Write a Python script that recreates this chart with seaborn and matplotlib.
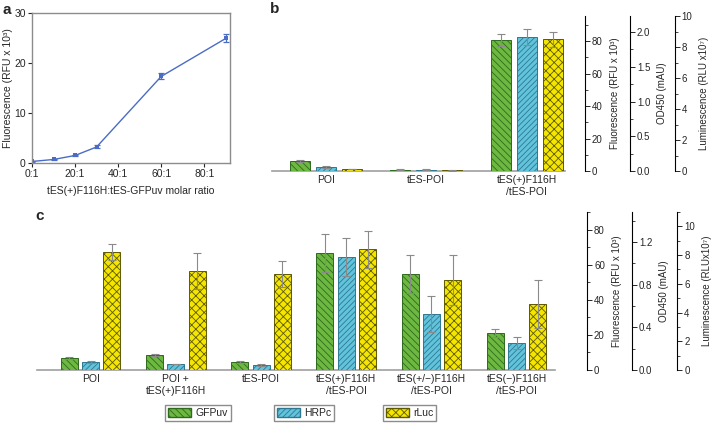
import numpy as np
import pandas as pd
import matplotlib
matplotlib.use("Agg")
import matplotlib.pyplot as plt
import seaborn as sns
from matplotlib.patches import Patch
from matplotlib.ticker import MultipleLocator

sns.set_style("white")
plt.rcParams['font.family'] = ['Liberation Sans', 'DejaVu Sans']
plt.rcParams['hatch.linewidth'] = 0.6

# panel a: titration
ratio = [0, 10, 20, 30, 60, 90]
ratio_fluor = [0.3, 0.7, 1.5, 3.2, 17.3, 24.9]
ratio_err = [0.1, 0.1, 0.15, 0.3, 0.6, 0.8]
ratio_ticks = [0, 20, 40, 60, 80]
ratio_labels = ["0:1", "20:1", "40:1", "60:1", "80:1"]

reporters = ["GFPuv", "HRPc", "rLuc"]

# panel b
b_groups = ["POI", "tES-POI", "tES(+)F116H\n/tES-POI"]
b_gfp = [6.2, 1.0, 80.6]        # RFU x 10^3
b_gfp_err = [0.7, 0.1, 3.7]
b_hrp = [0.058, 0.02, 1.93]     # OD450
b_hrp_err = [0.01, 0.005, 0.115]
b_luc = [0.13, 0.05, 8.5]       # RLU x 10^7
b_luc_err = [0.02, 0.01, 0.5]

# panel c
c_groups = ["POI", "POI +\ntES(+)F116H", "tES-POI", "tES(+)F116H\n/tES-POI",
            "tES(+/\u2212)F116H\n/tES-POI", "tES(\u2212)F116H\n/tES-POI"]
c_gfp = [6.8, 8.5, 4.5, 66.5, 54.5, 21.0]
c_gfp_err = [0.6, 0.6, 0.4, 10.8, 10.8, 2.3]
c_hrp = [0.075, 0.056, 0.047, 1.06, 0.525, 0.253]
c_hrp_err = [0.01, 0.004, 0.008, 0.18, 0.17, 0.056]
c_luc = [8.2, 6.9, 6.7, 8.4, 6.25, 4.6]
c_luc_err = [0.55, 1.25, 0.9, 1.3, 1.74, 1.67]

faces = ["#6cb840", "#62c4dc", "#f4e600"]
edges = ["#2f6a1e", "#2d7890", "#5e5800"]
hatches = ["\\\\\\\\\\", "//////", "xxxx"]

fig = plt.figure(figsize=(7.15, 4.3), dpi=100)

# ---- panel a
axa = fig.add_axes([0.0448, 0.621, 0.277, 0.349])
sns.lineplot(x=ratio, y=ratio_fluor, ax=axa, color="#4a6cc4", lw=1,
             marker="s", markersize=3, markeredgewidth=0)
axa.errorbar(ratio, ratio_fluor, yerr=ratio_err, fmt="none", ecolor="#4a6cc4",
             elinewidth=0.9, capsize=2.5, capthick=0.9)
axa.set_xlim(0, 92)
axa.set_ylim(0, 30)
axa.set_xticks(ratio_ticks)
axa.set_xticklabels(ratio_labels)
axa.set_yticks([0, 10, 20, 30])
axa.tick_params(labelsize=7.5, length=3, width=0.8, direction="out",
                bottom=True, left=True, pad=1.5)
for s in axa.spines.values():
    s.set_color("#8c8c8c")
    s.set_linewidth(1)
axa.set_xlabel("tES(+)F116H:tES-GFPuv molar ratio", fontsize=7.5, labelpad=5)
axa.set_ylabel("Fluorescence (RFU x 10\u00b3)", fontsize=7.5, labelpad=1)


def bar_panel(rect, groups, vals, errs, lims, spos, ylabels, majors, minors,
              xlim, width, gap):
    ax = fig.add_axes(rect)
    ax.set_yticks([])
    for k in ["left", "top", "right"]:
        ax.spines[k].set_visible(False)
    ax.spines["bottom"].set_color("#a0a0a0")
    ax.spines["bottom"].set_linewidth(1.2)
    for i in range(3):
        t = ax.twinx()
        df = pd.DataFrame({"group": groups, "value": vals[i], "reporter": reporters[i]})
        sns.barplot(data=df, x="group", y="value", hue="reporter",
                    hue_order=reporters, order=groups, palette=dict(zip(reporters, faces)),
                    width=width, gap=gap, dodge=True, errorbar=None, legend=False,
                    saturation=1, ax=t)
        for p in t.patches:
            p.set_hatch(hatches[i])
            p.set_edgecolor(edges[i])
            p.set_linewidth(0.7)
        xs = [p.get_x() + p.get_width() / 2 for p in t.patches]
        t.errorbar(xs, vals[i], yerr=errs[i], fmt="none", ecolor="#8a8a8a",
                   elinewidth=0.8, capsize=3, capthick=0.8)
        t.set_ylim(0, lims[i])
        for k in ["left", "top", "bottom"]:
            t.spines[k].set_visible(False)
        t.spines["right"].set_position(("axes", spos[i]))
        t.spines["right"].set_color("black")
        t.spines["right"].set_linewidth(0.8)
        t.yaxis.set_major_locator(MultipleLocator(majors[i]))
        t.yaxis.set_minor_locator(MultipleLocator(minors[i]))
        t.tick_params(axis="y", which="major", right=True, length=3.5, width=0.7,
                      labelsize=7, pad=1.5)
        t.tick_params(axis="y", which="minor", right=True, length=2, width=0.6)
        t.set_ylabel(ylabels[i], fontsize=7, labelpad=5)
        t.set_xlabel("")
    ax.set_xlim(*xlim)
    ax.set_xticks(range(len(groups)))
    ax.set_xticklabels(groups)
    ax.tick_params(axis="x", length=0, labelsize=7.5, pad=3)
    ax.set_xlabel("")
    return ax


bar_panel([0.380, 0.602, 0.410, 0.3605], b_groups,
          [b_gfp, b_hrp, b_luc], [b_gfp_err, b_hrp_err, b_luc_err],
          [95.4, 2.23, 10.0], [1.068, 1.222, 1.375],
          ["Fluorescence (RFU x 10\u00b3)", "OD450 (mAU)", "Luminescence (RLU x10\u2077)"],
          [20, 0.5, 2], [10, 0.25, 1], (-0.54, 2.38), 0.78, 0.23)

bar_panel([0.0517, 0.1395, 0.7245, 0.3674], c_groups,
          [c_gfp, c_hrp, c_luc], [c_gfp_err, c_hrp_err, c_luc_err],
          [90, 1.48, 11.0], [1.062, 1.149, 1.236],
          ["Fluorescence (RFU x 10\u00b3)", "OD450 (mAU)", "Luminescence (RLUx10\u2077)"],
          [20, 0.4, 2], [10, 0.2, 1], (-0.63, 5.45), 0.75, 0.2)

# legends
for i, xc in enumerate([0.277, 0.425, 0.573]):
    h = Patch(facecolor=faces[i], edgecolor=edges[i], hatch=hatches[i], label=reporters[i])
    fig.legend(handles=[h], loc="center", bbox_to_anchor=(xc, 0.0395), fontsize=7.5,
               frameon=True, fancybox=False, edgecolor="#8c8c8c", framealpha=1,
               handlelength=2.2, handleheight=1.0, handletextpad=0.4,
               borderpad=0.3, borderaxespad=0)

fig.text(0.004, 0.992, "a", fontsize=11, fontweight="bold", va="top")
fig.text(0.378, 0.995, "b", fontsize=11, fontweight="bold", va="top")
fig.text(0.050, 0.514, "c", fontsize=11, fontweight="bold", va="top")

fig.savefig("out.png", dpi=100)
